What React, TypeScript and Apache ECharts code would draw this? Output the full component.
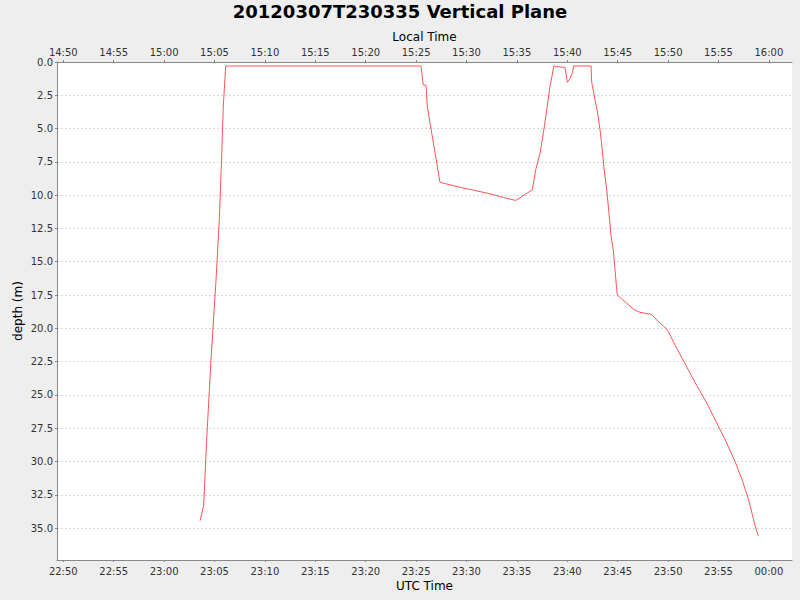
import React, { useEffect, useRef } from "react";
import * as echarts from "echarts";

// minutes after 23:00 UTC
const utcMinutes = [
  3.56, 3.92, 4.22, 4.65, 5.15, 5.48, 5.71, 5.87, 6.11, 25.49, 25.71, 25.98, 26.11, 27.37,
  29.35, 30.55, 32.33, 33.32, 34.88, 36.53, 36.87, 37.29, 37.62, 37.96, 38.28, 38.68, 38.88,
  39.77, 40.0, 40.27, 40.53, 40.6, 42.35, 42.42, 42.75, 42.98, 43.25, 43.47, 43.64, 43.91,
  44.14, 44.34, 44.56, 44.73, 44.9, 44.96, 45.4, 45.89, 46.62, 47.21, 48.35, 48.9, 49.79,
  50.02, 50.85, 51.85, 52.84, 53.83, 54.82, 55.81, 56.64, 57.3, 57.96, 58.29, 58.62, 58.95,
];
const depths = [
  34.45, 33.35, 28.4, 22.4, 16.4, 11.8, 7.1, 3.36, 0.3, 0.3, 1.73, 1.73, 3.36, 9.04, 9.41,
  9.6, 9.9, 10.1, 10.4, 9.6, 8.06, 6.86, 5.36, 3.6, 1.85, 0.28, 0.35, 0.4, 1.53, 1.23, 0.8,
  0.3, 0.3, 1.53, 2.85, 3.7, 5.1, 6.6, 8.0, 9.6, 11.4, 13.1, 14.1, 15.6, 17.1, 17.5, 17.8,
  18.1, 18.6, 18.8, 18.95, 19.4, 20.0, 20.25, 21.5, 22.9, 24.3, 25.6, 27.1, 28.6, 30.0, 31.3,
  32.8, 33.8, 34.8, 35.6,
];
const timeTicks = [-10, -5, 0, 5, 10, 15, 20, 25, 30, 35, 40, 45, 50, 55, 60];
const depthTicks = [0, 2.5, 5, 7.5, 10, 12.5, 15, 17.5, 20, 22.5, 25, 27.5, 30, 32.5, 35];
const BASE_HOUR_UTC = 23;
const LOCAL_OFFSET_HOURS = -8;

const TITLE = "20120307T230335 Vertical Plane";
const FONT = "DejaVu Sans";

function fmtTime(minAfterBase: number, offsetHours: number) {
  let total = Math.round((BASE_HOUR_UTC + offsetHours) * 60 + minAfterBase);
  total = ((total % 1440) + 1440) % 1440;
  const h = Math.floor(total / 60);
  const m = total % 60;
  return String(h).padStart(2, "0") + ":" + String(m).padStart(2, "0");
}

export default function App() {
  const ref = useRef<HTMLDivElement>(null);
  useEffect(() => {
    if (!ref.current) return;
    const chart = echarts.init(ref.current, undefined, { renderer: "svg" });
    const axisLine = { show: true, onZero: false, lineStyle: { color: "#888888", width: 1 } };
    const xCommon = {
      type: "value",
      min: -10.625,
      max: 62.29,
      splitLine: { show: false },
      axisLine,
      nameLocation: "middle",
      nameMoveOverlap: false,
      nameTextStyle: { fontFamily: FONT, fontSize: 12, color: "#000" },
    };
    chart.setOption({
      animation: false,
      backgroundColor: "#eeeeee",
      title: {
        text: TITLE,
        left: "center",
        top: 2,
        padding: 0,
        textStyle: { fontFamily: FONT, fontSize: 18, fontWeight: "bold", color: "#000" },
      },
      grid: {
        left: 57,
        right: 8,
        top: 62,
        bottom: 40,
        show: true,
        backgroundColor: "#ffffff",
        borderWidth: 0,
      },
      xAxis: [
        {
          ...xCommon,
          position: "bottom",
          name: "UTC Time",
          nameGap: 20,
          axisTick: { show: true, length: 2, customValues: timeTicks, lineStyle: { color: "#888" } },
          axisLabel: {
            customValues: timeTicks,
            formatter: (v: number) => fmtTime(v, 0),
            fontFamily: FONT,
            fontSize: 10,
            color: "#333",
            margin: 6,
          },
        },
        {
          ...xCommon,
          position: "top",
          name: "Local Time",
          nameGap: 19,
          axisTick: { show: true, length: 2, customValues: timeTicks, lineStyle: { color: "#888" } },
          axisLabel: {
            customValues: timeTicks,
            formatter: (v: number) => fmtTime(v, LOCAL_OFFSET_HOURS),
            fontFamily: FONT,
            fontSize: 10,
            color: "#333",
            margin: 5,
          },
        },
      ],
      yAxis: {
        type: "value",
        inverse: true,
        min: 0,
        max: 37.4,
        interval: 2.5,
        name: "depth (m)",
        nameLocation: "middle",
        nameMoveOverlap: false,
        nameGap: 33,
        nameRotate: 90,
        nameTextStyle: { fontFamily: FONT, fontSize: 12, color: "#000" },
        axisLine,
        axisTick: { show: true, length: 2, customValues: depthTicks, lineStyle: { color: "#888" } },
        axisLabel: {
          customValues: depthTicks,
          formatter: (v: number) => v.toFixed(1),
          fontFamily: FONT,
          fontSize: 10,
          color: "#333",
          margin: 4,
        },
        splitLine: { show: true, lineStyle: { color: "#d8d8d8", type: [2, 2], width: 1 } },
      },
      series: [
        {
          type: "line",
          xAxisIndex: 0,
          data: utcMinutes.map((t, i) => [t, depths[i]]),
          showSymbol: false,
          lineStyle: { color: "#ff5555", width: 1 },
          itemStyle: { color: "#ff5555" },
        },
      ],
    });
    return () => chart.dispose();
  }, []);
  return (
    <div
      ref={ref}
      style={{ position: "fixed", left: 0, top: 0, width: 800, height: 600 }}
    />
  );
}
